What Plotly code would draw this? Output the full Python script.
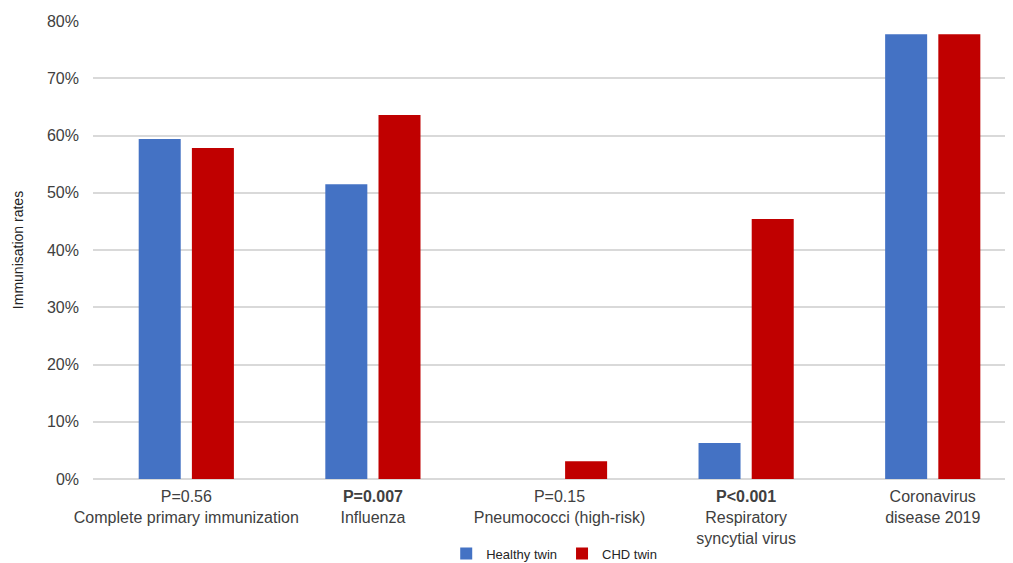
import plotly.graph_objects as go

categories = ["Complete primary immunization", "Influenza", "Pneumococci (high-risk)",
              "Respiratory syncytial virus", "Coronavirus disease 2019"]
tick_labels = ["P=0.56<br>Complete primary immunization",
               "<b>P=0.007</b><br>Influenza",
               "P=0.15<br>Pneumococci (high-risk)",
               "<b>P&lt;0.001</b><br>Respiratory<br>syncytial virus",
               "Coronavirus<br>disease 2019"]
healthy_twin = [59.4, 51.5, 0.0, 6.3, 77.7]
chd_twin = [57.8, 63.6, 3.1, 45.4, 77.7]
y_ticks = [0, 10, 20, 30, 40, 50, 60, 70, 80]
y_tick_labels = [f"{v}%" for v in y_ticks]

font_family = "Liberation Sans, Arial, Helvetica, sans-serif"
text_color = "#404040"

fig = go.Figure()
fig.add_trace(go.Bar(x=categories, y=healthy_twin, name="Healthy twin",
                     marker=dict(color="#4472C4", line=dict(width=0))))
fig.add_trace(go.Bar(x=categories, y=chd_twin, name="CHD twin",
                     marker=dict(color="#C00000", line=dict(width=0))))

fig.update_layout(
    width=1013, height=563,
    margin=dict(l=85, r=0, t=13, b=92),
    paper_bgcolor="white", plot_bgcolor="white",
    barmode="group", bargap=0.43, bargroupgap=0.21,
    font=dict(family=font_family, size=16, color=text_color),
    showlegend=True,
    legend=dict(orientation="h", x=0.497, xanchor="center", y=-0.163, yanchor="middle",
                font=dict(size=13, color="#262626"), itemwidth=30,
                bgcolor="rgba(0,0,0,0)",
                tracegroupgap=0, traceorder="normal"),
    xaxis=dict(tickmode="array", tickvals=categories, ticktext=tick_labels,
               range=[-0.5, 4.473], showgrid=False, zeroline=False,
               showline=False, ticks="", tickangle=0, automargin=False,
               ticklabelstandoff=6,
               tickfont=dict(size=16, color=text_color)),
    yaxis=dict(range=[0, 80], tickmode="array", tickvals=y_ticks, ticktext=y_tick_labels,
               showgrid=True, gridcolor="#D9D9D9", gridwidth=1.5,
               zeroline=True, zerolinecolor="#D9D9D9", zerolinewidth=1.5,
               showline=False, ticks="", ticklabelstandoff=13, automargin=False,
               tickfont=dict(size=16, color=text_color),
               title=dict(text="Immunisation rates", standoff=20,
                          font=dict(size=14, color="#222222"))),
)

fig.write_html("out.html")
